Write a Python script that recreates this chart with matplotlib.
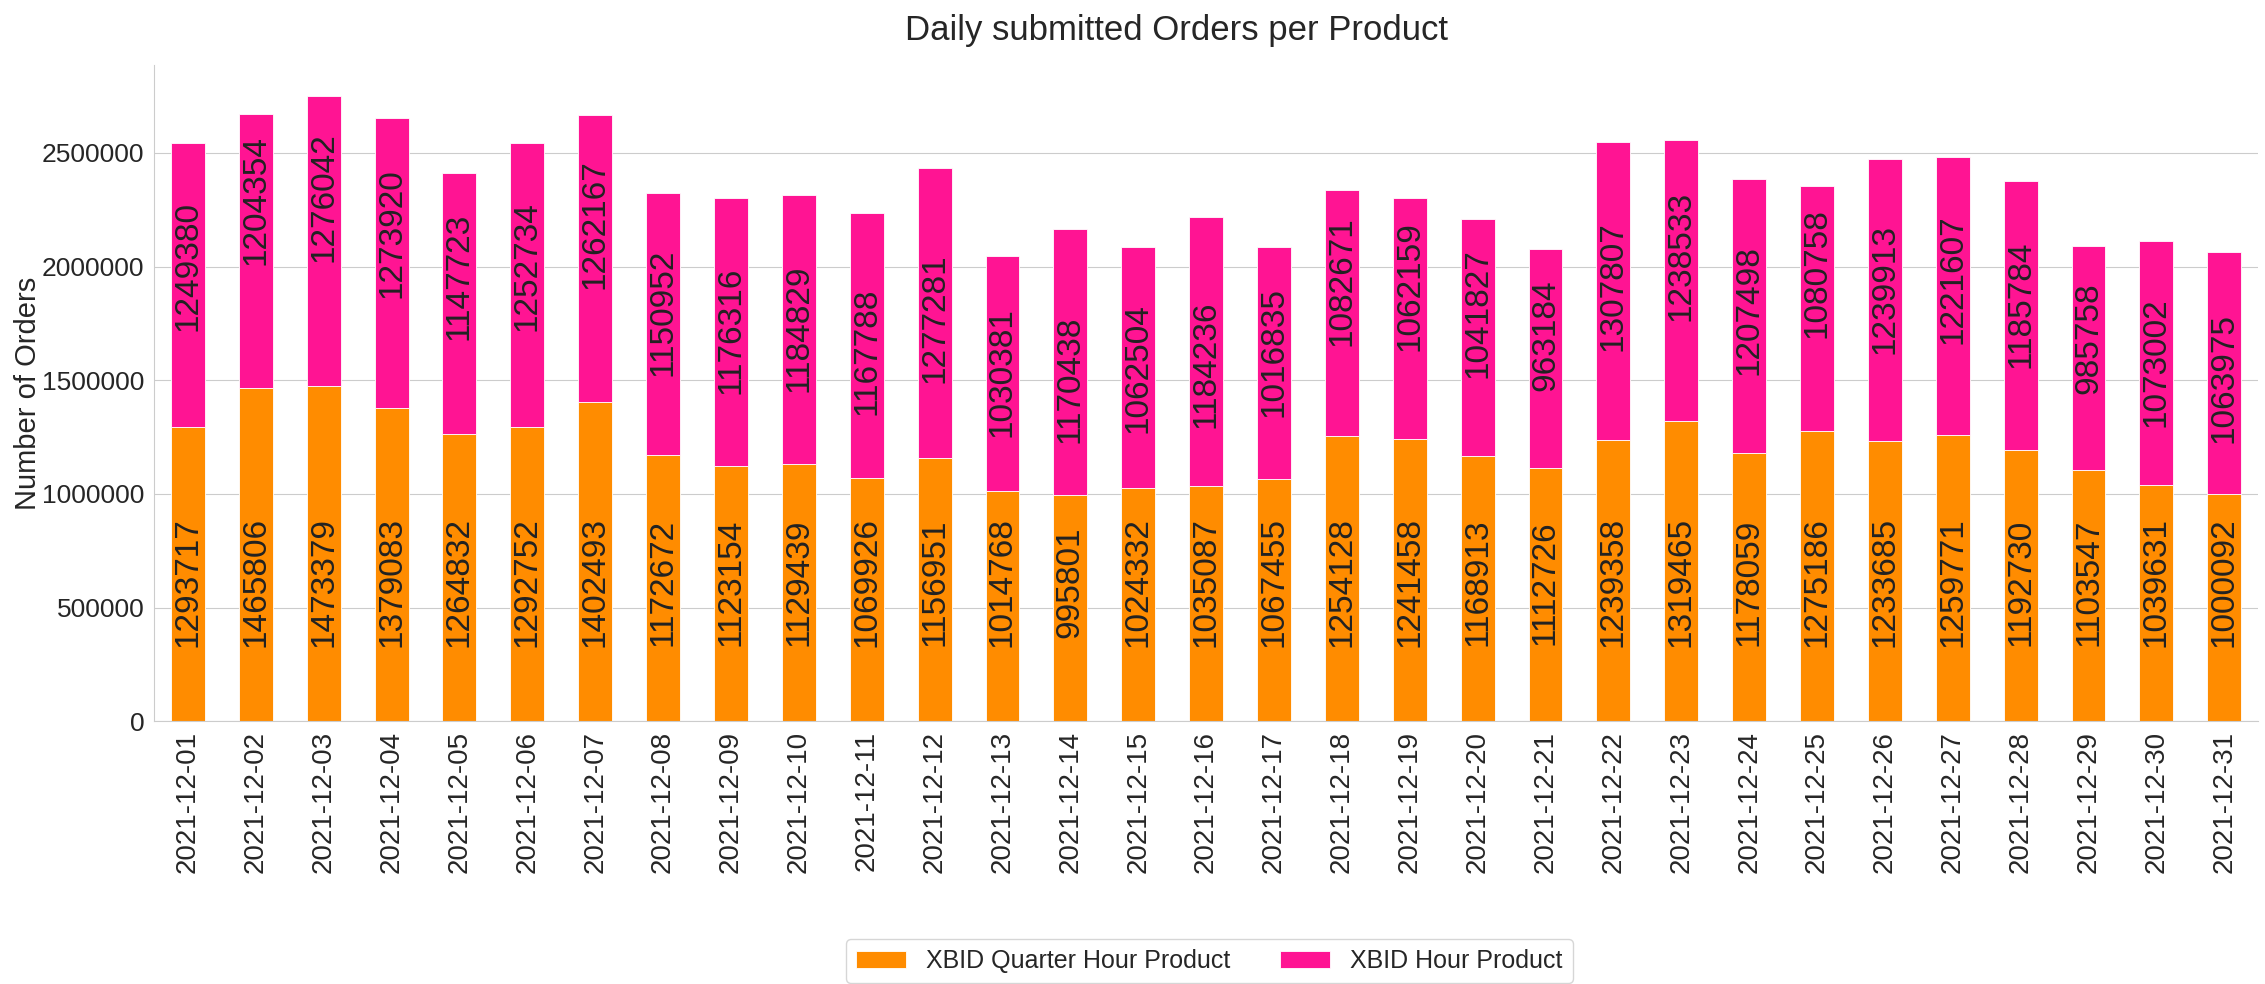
"""Daily submitted orders per product, stacked bars"""
import matplotlib
matplotlib.use("Agg")
import matplotlib.pyplot as plt
from matplotlib import font_manager
import numpy as np
import seaborn as sns

days = [f"2021-12-{d:02d}" for d in range(1, 32)]

quarter_hour = [1293717, 1465806, 1473379, 1379083, 1264832, 1292752, 1402493,
                1172672, 1123154, 1129439, 1069926, 1156951, 1014768, 995801,
                1024332, 1035087, 1067455, 1254128, 1241458, 1168913, 1112726,
                1239358, 1319465, 1178059, 1275186, 1233685, 1259771, 1192730,
                1103547, 1039631, 1000092]

hour = [1249380, 1204354, 1276042, 1273920, 1147723, 1252734, 1262167,
        1150952, 1176316, 1184829, 1167788, 1277281, 1030381, 1170438,
        1062504, 1184236, 1016835, 1082671, 1062159, 1041827, 963184,
        1307807, 1238533, 1207498, 1080758, 1239913, 1221607, 1185784,
        985758, 1073002, 1063975]

sns.set_style("whitegrid")
plt.rcParams['font.family'] = ['Liberation Sans', 'DejaVu Sans']

# horizontal texts in the reference are narrow; use the narrow face if it is there
names = {f.name for f in font_manager.fontManager.ttflist}
if 'Liberation Sans Narrow' in names:
    narrow = ['Liberation Sans Narrow', 'Liberation Sans']
    ytick_size, title_size, legend_size = 22, 29, 22
else:
    narrow = ['Liberation Sans', 'DejaVu Sans']
    ytick_size, title_size, legend_size = 19, 25, 18

fig = plt.figure(figsize=(22.65, 9.84), dpi=100)
ax = fig.add_axes([0.068, 0.267, 0.929, 0.667])

x = np.arange(len(days))
ax.bar(x, quarter_hour, width=0.5, color='#FF8C00', edgecolor='white',
       linewidth=0.6, label='XBID Quarter Hour Product')
ax.bar(x, hour, width=0.5, bottom=quarter_hour, color='#FF1493',
       edgecolor='white', linewidth=0.6, label='XBID Hour Product')

# value labels: the orange ones share one height, the pink ones follow the orange top
mid_q = np.mean(quarter_hour) / 2 + 15000
for i, (q, h) in enumerate(zip(quarter_hour, hour)):
    ax.text(i, mid_q, str(q), rotation=90, ha='center', va='center',
            fontsize=24, color='#222222')
    ax.text(i, 1.677 * q - 166000, str(h), rotation=90, ha='center',
            va='center', fontsize=24, color='#222222')

ax.set_xlim(-0.5, len(days) - 0.5)
ax.set_xticks(x)
ax.set_xticklabels(days, rotation=90, fontsize=20)
ax.ticklabel_format(axis='y', style='plain')
ax.tick_params(axis='y', labelsize=ytick_size)
for t in ax.get_yticklabels():
    t.set_family(narrow)
ax.grid(axis='x', visible=False)
ax.set_ylabel('Number of Orders', fontsize=21, labelpad=0)
ax.set_title('Daily submitted Orders per Product', fontsize=title_size,
             family=narrow, pad=18, x=0.486)
sns.despine(ax=ax)

fig.legend(loc='lower center', bbox_to_anchor=(0.534, -0.012), ncol=2,
           prop={'family': narrow, 'size': legend_size}, frameon=True)

fig.savefig('out.png', dpi=100)
